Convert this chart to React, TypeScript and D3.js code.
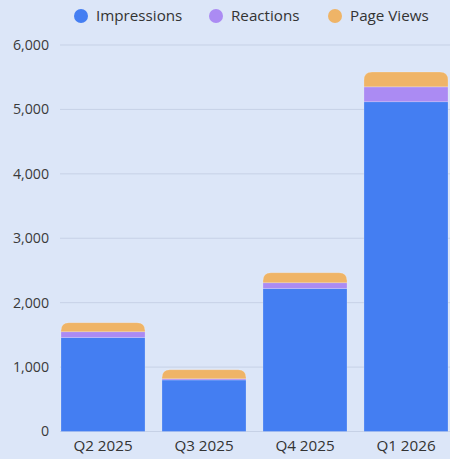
import React, { useEffect } from 'react';
import * as d3 from 'd3';

const quarters = ['Q2 2025', 'Q3 2025', 'Q4 2025', 'Q1 2026'];
const impressions = [1460, 800, 2220, 5120];
const reactions = [90, 20, 90, 230];
const pageViews = [140, 140, 155, 230];
const yTicks = [0, 1000, 2000, 3000, 4000, 5000, 6000];

const seriesNames = ['Impressions', 'Reactions', 'Page Views'];
const seriesColors = ['#447ef2', '#ab8bf3', '#efb467'];

const W = 450;
const H = 459;
const FONT = '"Open Sans", "Noto Sans", sans-serif';

// path for a bar segment, optionally with rounded top corners
const barPath = (x: number, y: number, w: number, h: number, r: number) => {
  if (r <= 0 || h <= 0) return `M${x},${y}h${w}v${h}h${-w}Z`;
  const rr = Math.min(r, h, w / 2);
  return `M${x},${y + h}V${y + rr}Q${x},${y} ${x + rr},${y}H${x + w - rr}Q${x + w},${y} ${x + w},${y + rr}V${y + h}Z`;
};

const App: React.FC = () => {
  useEffect(() => {
    document.body.style.margin = '0';
  }, []);

  const x = d3.scaleBand<string>()
    .domain(quarters)
    .range([61, 448])
    .paddingInner(0.168)
    .paddingOuter(0);

  const y = d3.scaleLinear().domain([0, 6000]).range([431.5, 45]);

  const rows = quarters.map((q, i) => ({
    quarter: q,
    Impressions: impressions[i],
    Reactions: reactions[i],
    'Page Views': pageViews[i]
  }));
  const stacked = d3.stack<any>().keys(seriesNames)(rows);

  const fmt = d3.format(',');
  const legendX = [81, 216, 335];

  return (
    <svg width={W} height={H} style={{ display: 'block', fontFamily: FONT }}>
      <rect width={W} height={H} fill="#dce6f8" />

      {/* gridlines and y ticks */}
      {yTicks.map(t => (
        <g key={t}>
          <line x1={60} x2={W} y1={y(t)} y2={y(t)} stroke="#c6d1e6" strokeWidth={1} />
          <text x={49} y={y(t)} dy="0.35em" textAnchor="end" fontSize={14.2} fill="#3a3a3a">
            {fmt(t)}
          </text>
        </g>
      ))}

      {/* bars */}
      {stacked.map((layer, si) => (
        <g key={layer.key} fill={seriesColors[si]}>
          {layer.map((d, i) => {
            const x0 = x(quarters[i])!;
            const y0 = y(d[1]);
            const h = y(d[0]) - y(d[1]);
            const isTop = si === stacked.length - 1;
            return (
              <path
                key={i}
                d={barPath(x0, y0, x.bandwidth(), h, isTop ? 8 : 0)}
                stroke="#ffffff"
                strokeOpacity={0.25}
                strokeWidth={0.8}
              />
            );
          })}
        </g>
      ))}

      {/* x labels */}
      {quarters.map(q => (
        <text
          key={q}
          x={x(q)! + x.bandwidth() / 2}
          y={446}
          dy="0.35em"
          textAnchor="middle"
          fontSize={15.2}
          fill="#333"
        >
          {q}
        </text>
      ))}

      {/* legend */}
      {seriesNames.map((name, i) => (
        <g key={name} transform={`translate(${legendX[i]},16)`}>
          <circle r={7} fill={seriesColors[i]} />
          <text x={15} dy="0.35em" fontSize={15.2} fill="#333">
            {name}
          </text>
        </g>
      ))}
    </svg>
  );
};

export default App;
